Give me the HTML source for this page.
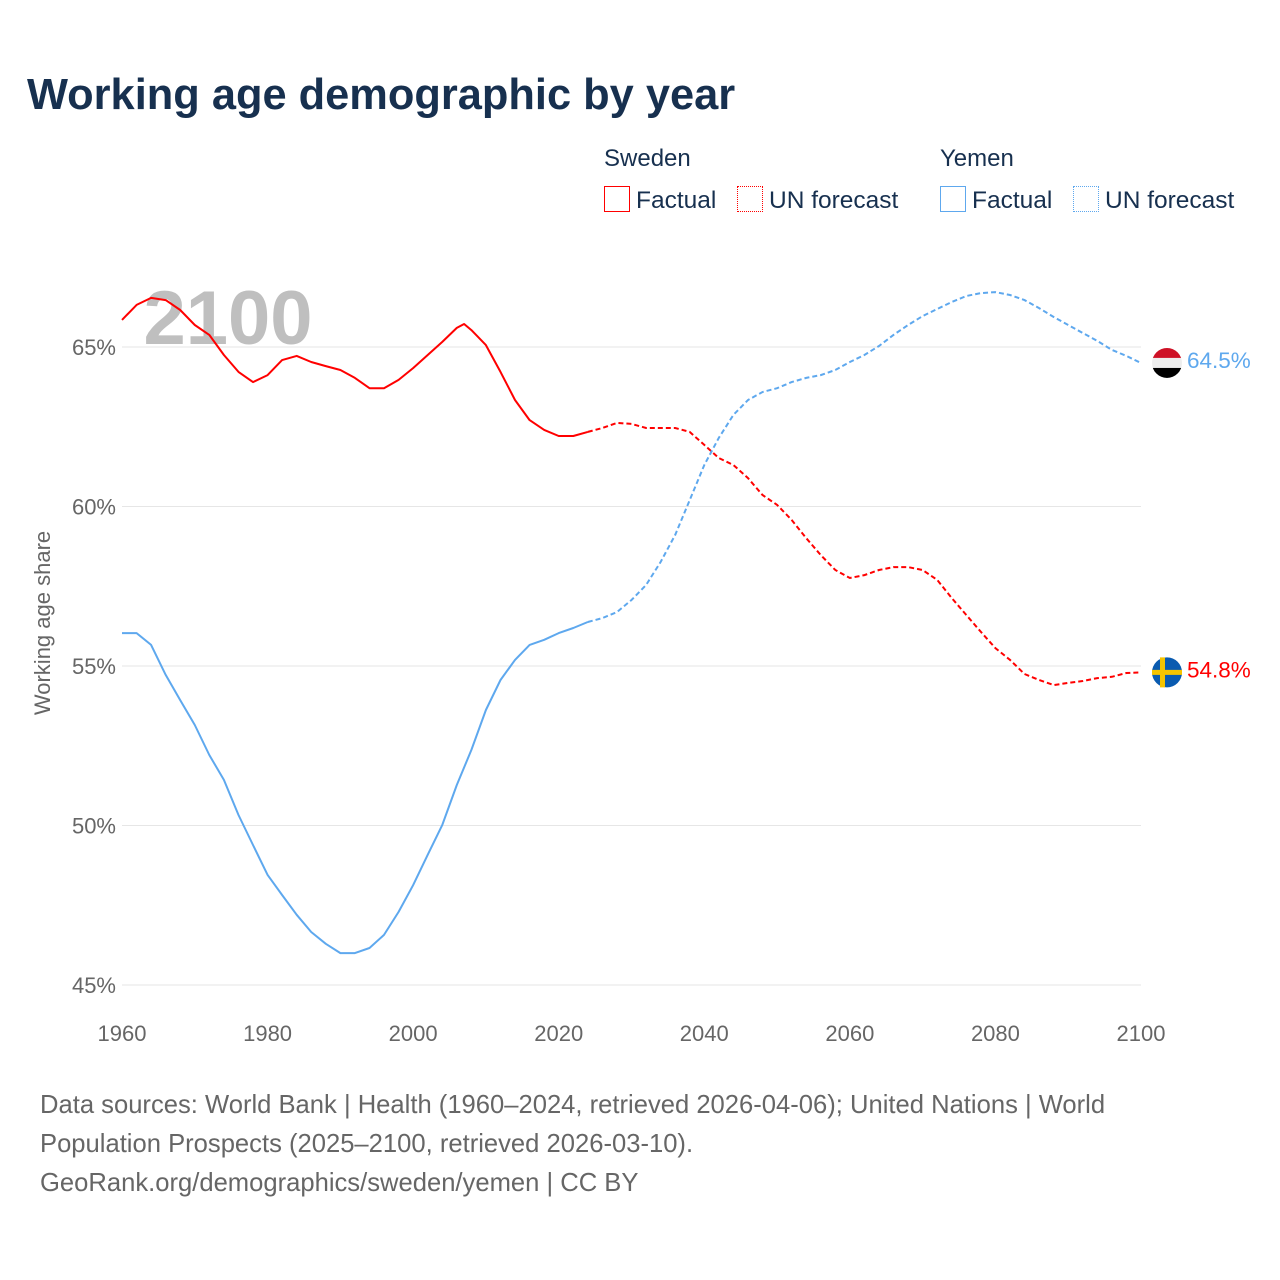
<!DOCTYPE html>
<html><head><meta charset="utf-8"><style>
body{margin:0;background:#fff;font-family:"Liberation Sans",sans-serif;}
#wrap{position:relative;width:1280px;height:1280px;overflow:hidden;}
.t{position:absolute;white-space:nowrap;}
</style></head><body>
<div id="wrap">
<div class="t" style="left:27px;top:71px;font-size:43.4px;font-weight:bold;color:#17304f;">Working age demographic by year</div>
<div class="t" style="left:604px;top:145px;font-size:24px;color:#17304f;">Sweden</div>
<div class="t" style="left:940px;top:145px;font-size:24px;color:#17304f;">Yemen</div>
<div class="t" style="left:604px;top:186px;font-size:24.5px;color:#17304f;"><span style="display:inline-block;width:26px;height:26px;border:1.5px solid #f00;box-sizing:border-box;vertical-align:-4px;margin-right:6px"></span>Factual</div>
<div class="t" style="left:737px;top:186px;font-size:24.5px;color:#17304f;"><span style="display:inline-block;width:26px;height:26px;border:1.5px dotted #f00;box-sizing:border-box;vertical-align:-4px;margin-right:6px"></span>UN forecast</div>
<div class="t" style="left:940px;top:186px;font-size:24.5px;color:#17304f;"><span style="display:inline-block;width:26px;height:26px;border:1.5px solid #5ea8ee;box-sizing:border-box;vertical-align:-4px;margin-right:6px"></span>Factual</div>
<div class="t" style="left:1073px;top:186px;font-size:24.5px;color:#17304f;"><span style="display:inline-block;width:26px;height:26px;border:1.5px dotted #5ea8ee;box-sizing:border-box;vertical-align:-4px;margin-right:6px"></span>UN forecast</div>
<svg id="plot" width="1280" height="1280" style="position:absolute;left:0;top:0"></svg>
<div class="t" style="left:40px;top:1086px;font-size:25.6px;line-height:39px;color:#666;">Data sources: World Bank | Health (1960–2024, retrieved 2026-04-06); United Nations | World<br>Population Prospects (2025–2100, retrieved 2026-03-10).<br>GeoRank.org/demographics/sweden/yemen | CC BY</div>
</div>
<script>
const yTicks=[45,50,55,60,65];
const xTicks=[1960,1980,2000,2020,2040,2060,2080,2100];
const sweYears=[1960,1962,1964,1966,1968,1970,1972,1974,1976,1978,1980,1982,1984,1986,1988,1990,1992,1994,1996,1998,2000,2002,2004,2006,2007,2008,2010,2012,2014,2016,2018,2020,2022,2024,2026,2028,2030,2032,2034,2036,2038,2040,2042,2044,2046,2048,2050,2052,2054,2056,2058,2060,2062,2064,2066,2068,2070,2072,2074,2076,2078,2080,2082,2084,2086,2088,2090,2092,2094,2096,2098,2100];
const sweVals=[65.85,66.32,66.54,66.47,66.16,65.69,65.38,64.75,64.22,63.9,64.12,64.59,64.72,64.53,64.4,64.28,64.03,63.71,63.71,63.97,64.34,64.75,65.16,65.6,65.72,65.53,65.06,64.22,63.34,62.71,62.4,62.21,62.21,62.34,62.46,62.62,62.59,62.46,62.46,62.46,62.34,61.93,61.52,61.3,60.89,60.36,60.05,59.58,59.01,58.48,58.01,57.76,57.85,58.01,58.1,58.1,58.01,57.7,57.13,56.6,56.07,55.56,55.19,54.75,54.56,54.4,54.47,54.53,54.62,54.66,54.78,54.8];
const yemYears=[1960,1962,1964,1966,1968,1970,1972,1974,1976,1978,1980,1982,1984,1986,1988,1990,1992,1994,1996,1998,2000,2002,2004,2006,2008,2010,2012,2014,2016,2018,2020,2022,2024,2026,2028,2030,2032,2034,2036,2038,2040,2042,2044,2046,2048,2050,2052,2054,2056,2058,2060,2062,2064,2066,2068,2070,2072,2074,2076,2078,2080,2082,2084,2086,2088,2090,2092,2094,2096,2098,2100];
const yemVals=[56.03,56.03,55.66,54.72,53.93,53.15,52.21,51.43,50.33,49.39,48.45,47.82,47.2,46.66,46.29,46.0,46.0,46.16,46.57,47.29,48.13,49.08,50.02,51.27,52.37,53.62,54.56,55.19,55.66,55.82,56.03,56.19,56.38,56.5,56.69,57.07,57.54,58.26,59.11,60.2,61.3,62.15,62.87,63.34,63.59,63.71,63.9,64.03,64.12,64.28,64.53,64.75,65.03,65.38,65.69,65.97,66.19,66.41,66.6,66.69,66.72,66.63,66.47,66.22,65.94,65.69,65.44,65.19,64.91,64.72,64.5];
const factualEnd=2024;
const NS="http://www.w3.org/2000/svg";
const svg=document.getElementById('plot');
const X=y=>122+(y-1960)*(1141-122)/140;
const Y=v=>985-(v-45)*(985-347)/20;
function mk(t,a){const e=document.createElementNS(NS,t);for(const k in a)e.setAttribute(k,a[k]);svg.appendChild(e);return e;}
const yr=mk('text',{x:228,y:344,'font-size':76,'font-weight':'bold',fill:'#bfbfbf','text-anchor':'middle','font-family':'Liberation Sans,sans-serif'});
yr.textContent='2100';


yTicks.forEach(v=>{
 const g=mk('line',{x1:122,x2:1141,y1:Y(v),y2:Y(v),stroke:'#e6e6e6','stroke-width':1});
 
 
 const t=mk('text',{x:116,y:Y(v)+8,'font-size':22,fill:'#666','text-anchor':'end','font-family':'Liberation Sans,sans-serif'});
 t.textContent=v+'%';
 
 
});
xTicks.forEach(v=>{
 const t=mk('text',{x:X(v),y:1041,'font-size':22,fill:'#666','text-anchor':'middle','font-family':'Liberation Sans,sans-serif'});
 t.textContent=v;
 
 
});
const yt=mk('text',{x:0,y:0,'font-size':22,fill:'#666','text-anchor':'middle','font-family':'Liberation Sans,sans-serif',transform:'translate(50,623) rotate(-90)'});
yt.textContent='Working age share';


function series(years,vals,color,name){
 const f=[],p=[];
 years.forEach((y,i)=>{const pt=X(y).toFixed(1)+','+Y(vals[i]).toFixed(1);if(y<=factualEnd)f.push(pt);if(y>=factualEnd)p.push(pt);});
 const a=mk('polyline',{points:f.join(' '),fill:'none',stroke:color,'stroke-width':2,'stroke-linejoin':'round'});
 
 
 const b=mk('polyline',{points:p.join(' '),fill:'none',stroke:color,'stroke-width':2,'stroke-dasharray':'5,3'});
 
 
}
series(sweYears,sweVals,'#ff0000','sweden');
series(yemYears,yemVals,'#5ea8ee','yemen');
function endLabel(val,color,name,flag){
 const cy=Y(val),cx=1167;
 const g=document.createElementNS(NS,'g');svg.appendChild(g);
 
 
 g.innerHTML=flag(cx,cy);
 const t=mk('text',{x:1187,y:cy+5,'font-size':22.5,fill:color,'font-family':'Liberation Sans,sans-serif'});
 t.textContent=val.toFixed(1)+'%';
 
 
}
endLabel(yemVals[yemVals.length-1],'#5ea8ee','yemen',(cx,cy)=>`<clipPath id="cy"><circle cx="${cx}" cy="${cy}" r="15"/></clipPath><g clip-path="url(#cy)"><rect x="${cx-15}" y="${cy-15}" width="30" height="10" fill="#ce1126"/><rect x="${cx-15}" y="${cy-5}" width="30" height="10" fill="#eee"/><rect x="${cx-15}" y="${cy+5}" width="30" height="10" fill="#000"/></g>`);
endLabel(sweVals[sweVals.length-1],'#ff0000','sweden',(cx,cy)=>`<circle cx="${cx}" cy="${cy}" r="15" fill="#0a5bb0"/><rect x="${cx-7}" y="${cy-15}" width="5" height="30" fill="#f5c400"/><rect x="${cx-15}" y="${cy-2.5}" width="30" height="5" fill="#f5c400"/>`);
</script>
</body></html>
